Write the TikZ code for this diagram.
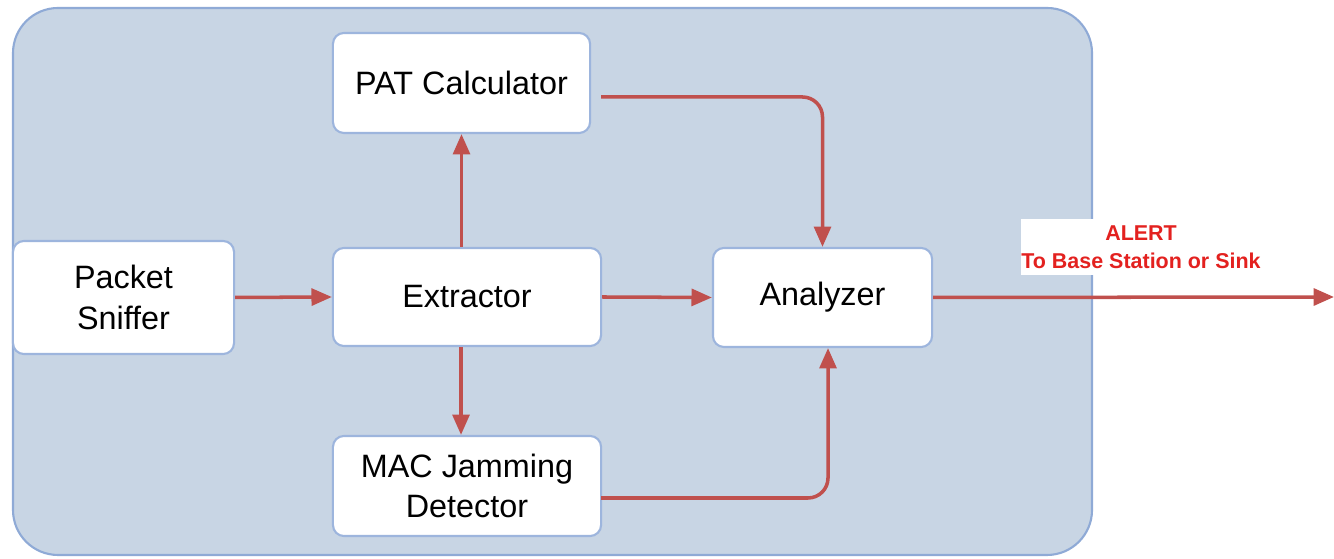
\documentclass[tikz,border=0pt]{standalone}
\usepackage{fontspec}
\setmainfont{Liberation Sans}
\usetikzlibrary{arrows.meta}
\definecolor{panelfill}{HTML}{C8D5E4}
\definecolor{panelline}{HTML}{8FAAD6}
\definecolor{boxline}{HTML}{9DB5DD}
\definecolor{flow}{HTML}{C0504D}
\definecolor{alertred}{HTML}{E3211F}
\tikzset{
  block/.style={draw=boxline, line width=0.6pt, fill=white, rounded corners=0.11cm,
    align=center, inner sep=0pt, font=\fontsize{9.2}{11.6}\selectfont},
  flowarrow/.style={draw=flow, line width=1pt,
    -{Triangle[length=5.8pt,width=4.8pt]}},
}
\begin{document}
\begin{tikzpicture}[x=0.01cm, y=-0.01cm]
  \useasboundingbox (0,0) rectangle (1334,559);
  % processing unit panel
  \draw[panelline, fill=panelfill, line width=0.6pt, rounded corners=0.45cm]
    (13,8) rectangle (1092,555);
  % blocks
  \node[block, minimum width=2.57cm, minimum height=1.0cm] (pat) at (461.5,83) {PAT Calculator};
  \node[block, minimum width=2.21cm, minimum height=1.13cm] (sniff) at (123.5,297.5) {Packet\\Sniffer};
  \node[block, minimum width=2.68cm, minimum height=0.98cm] (ext) at (467,297) {Extractor};
  \node[block, minimum width=2.19cm, minimum height=0.99cm] (ana) at (822.5,297.5) {Analyzer};
  \node[block, minimum width=2.68cm, minimum height=1.0cm] (mac) at (467,486) {MAC Jamming\\Detector};
  % alert label
  \node[fill=white, inner xsep=0pt, inner ysep=1.8pt, align=center, text=alertred,
        font=\bfseries\fontsize{6.1}{7.9}\selectfont] (alert) at (1141,247)
        {ALERT\\To Base Station or Sink};
  \coordinate (sink) at (1334,297);
  \coordinate (patout) at (601,97);
  \coordinate (macout) at (601,498);
  % connectors
  \draw[flowarrow] (sniff.east) -- (ext.west);
  \draw[flowarrow] (ext.north -| pat.south) -- (pat.south);
  \draw[flowarrow] (ext.south -| 461,0) -- (mac.north -| 461,0);
  \draw[flowarrow] (ext.east) -- (ana.west);
  \draw[flowarrow, rounded corners=0.2cm] (patout) -| (ana.north);
  \draw[flowarrow, rounded corners=0.2cm] (macout) -| ([xshift=0.055cm]ana.south);
  \draw[flowarrow] (ana.east) -- (sink);
\end{tikzpicture}
\end{document}
